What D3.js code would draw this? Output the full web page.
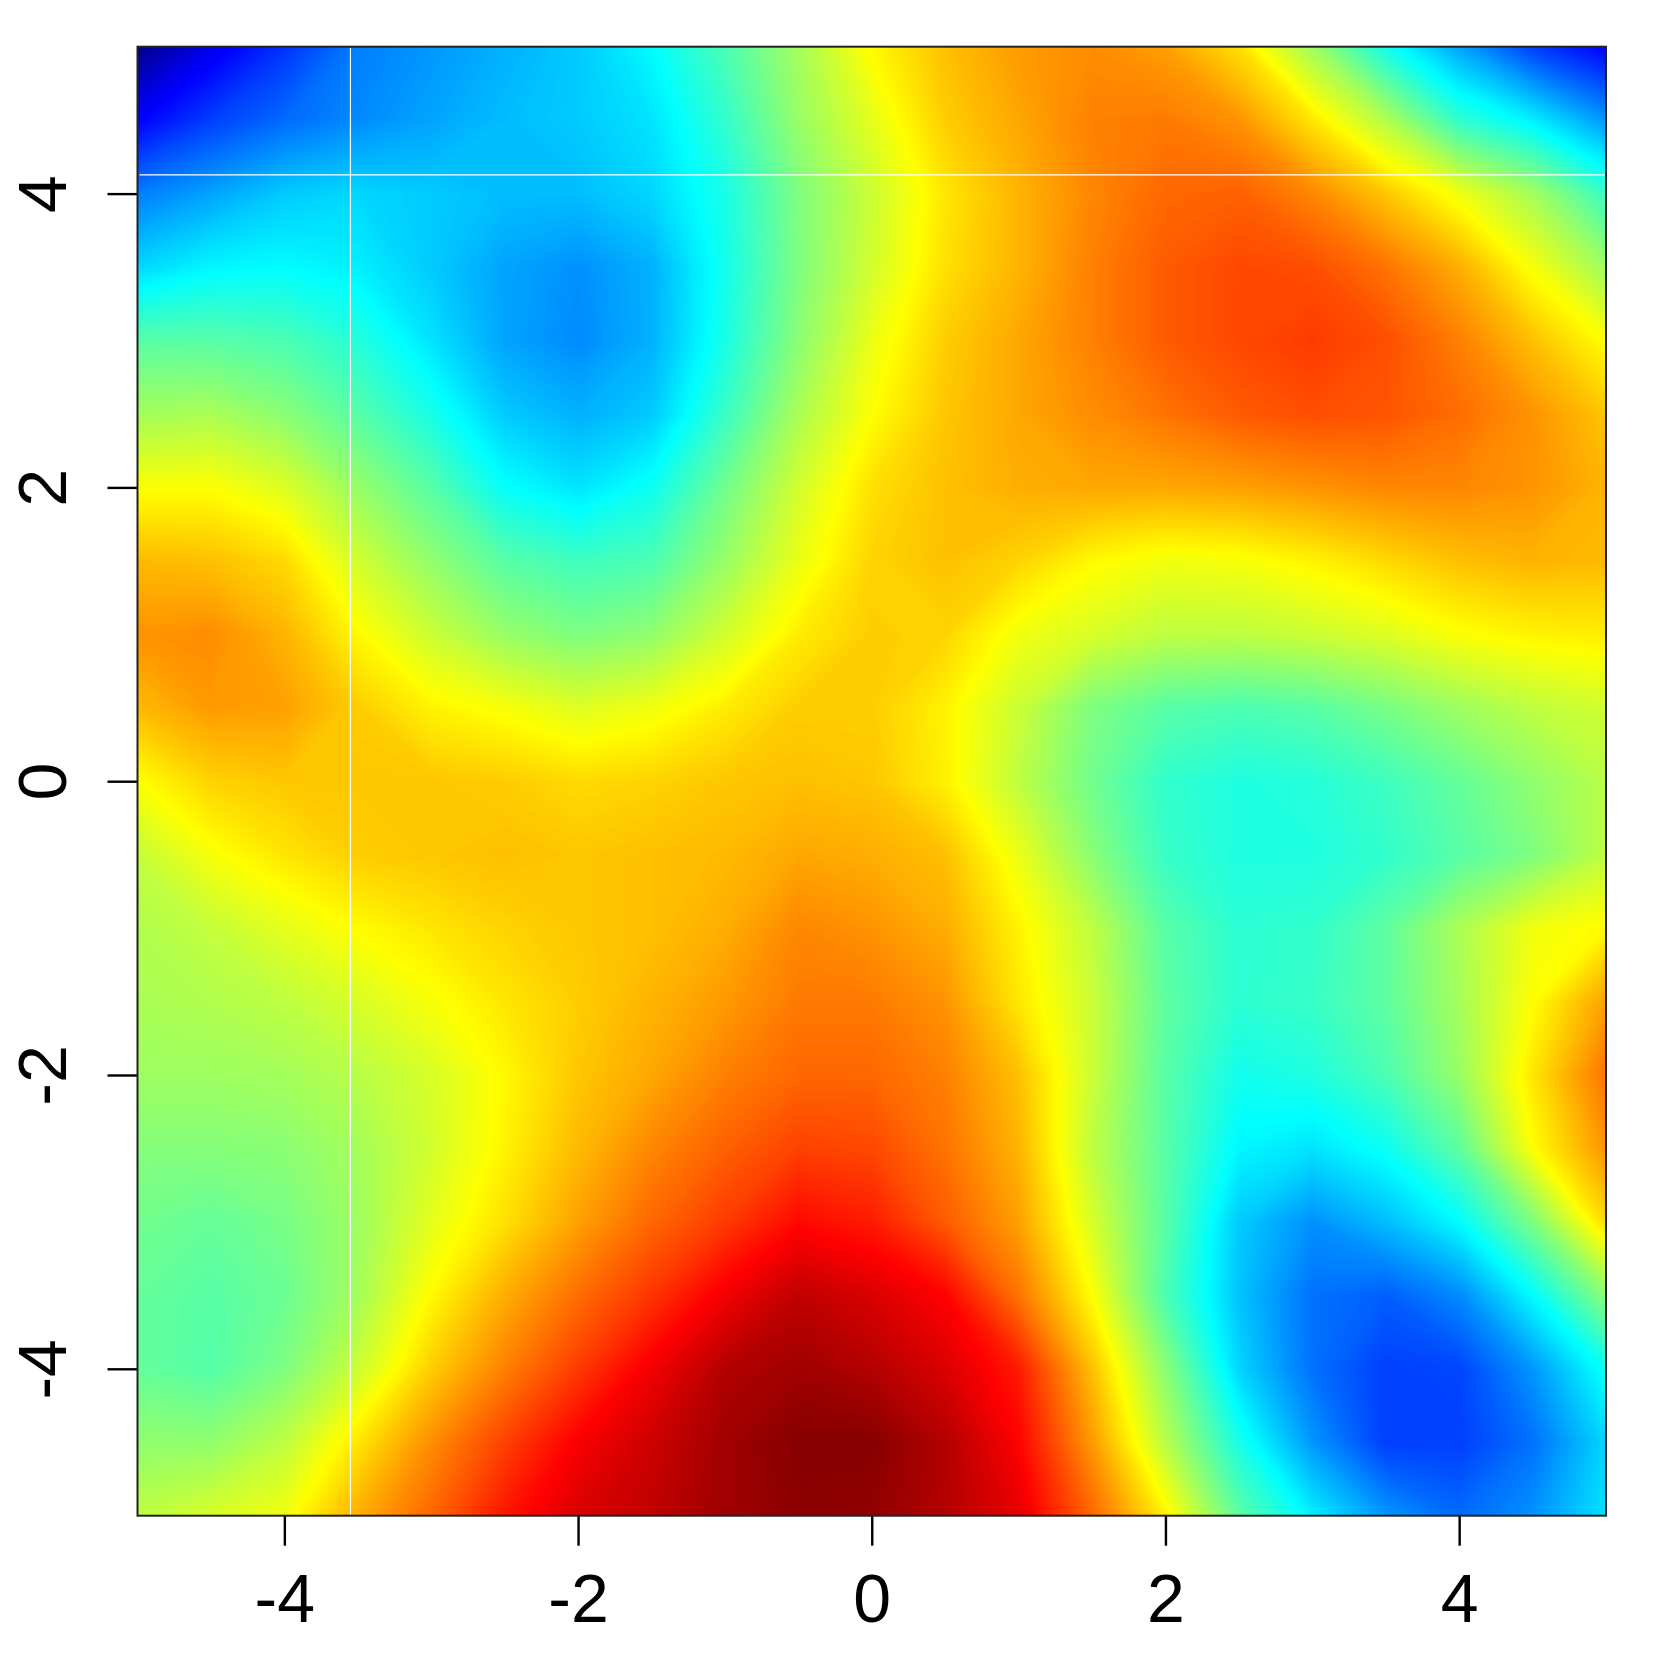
<!DOCTYPE html>
<html>
<head>
<meta charset="utf-8">
<script src="https://d3js.org/d3.v7.min.js"></script>
<style>
  html, body { margin: 0; padding: 0; background: #fff; }
  svg { display: block; }
  text { font-family: "Liberation Sans", Arial, sans-serif; font-size: 68px; fill: #000; }
</style>
</head>
<body>
<div id="heatmap"></div>
<script>
// grid positions of the read values
var xGrid = d3.range(21).map(function(i) { return -5 + i * 0.5; });
var yGrid = d3.range(21).map(function(i) { return 5 - i * 0.5; });

// values, one row per yGrid entry (top row first)
var zRows = [
  [0.1,0.85,1.4,2.0,2.2,2.4,2.6,3.0,3.6,4.3,5.05,5.5,5.8,5.9,5.75,5.25,4.25,3.15,2.3,1.5,1.0],
  [1.0,1.5,1.85,2.1,2.3,2.5,2.6,2.8,3.4,4.2,4.8,5.4,5.7,6.0,6.05,5.85,5.2,4.4,3.4,2.9,2.2],
  [2.0,2.3,2.6,2.7,2.6,2.5,2.5,2.7,3.2,4.0,4.6,5.2,5.6,5.95,6.2,6.25,5.95,5.45,4.9,4.3,3.45],
  [2.7,2.95,3.0,2.9,2.6,2.3,2.15,2.4,3.15,4.0,4.65,5.25,5.6,6.0,6.3,6.45,6.4,6.1,5.65,4.95,4.25],
  [3.7,3.7,3.6,3.3,2.8,2.3,2.1,2.4,3.2,4.1,4.85,5.4,5.7,6.0,6.3,6.45,6.55,6.4,6.0,5.5,5.0],
  [4.3,4.35,4.1,3.7,3.2,2.6,2.4,2.6,3.45,4.35,5.0,5.45,5.7,5.9,6.1,6.3,6.4,6.35,6.15,5.85,5.45],
  [4.98,5.0,4.75,4.2,3.7,3.05,2.8,3.1,3.9,4.65,5.25,5.5,5.65,5.7,5.7,5.75,5.85,5.95,5.95,5.85,5.6],
  [5.55,5.5,5.3,4.65,4.15,3.7,3.5,3.6,4.2,4.85,5.35,5.5,5.35,5.05,4.9,4.95,5.1,5.3,5.5,5.6,5.55],
  [5.85,5.9,5.6,5.05,4.6,4.2,4.0,4.15,4.65,5.15,5.4,5.35,4.9,4.7,4.5,4.5,4.6,4.75,4.98,5.1,5.15],
  [5.55,5.8,5.75,5.4,5.1,4.95,4.75,4.9,5.15,5.4,5.4,5.1,4.6,4.0,3.7,3.6,3.7,3.95,4.25,4.5,4.65],
  [5.0,5.35,5.45,5.45,5.45,5.4,5.3,5.35,5.45,5.5,5.45,5.12,4.5,3.9,3.4,3.25,3.3,3.5,3.8,4.15,4.45],
  [4.55,4.95,5.2,5.4,5.45,5.5,5.45,5.5,5.55,5.7,5.65,5.5,4.85,4.1,3.45,3.25,3.25,3.4,3.7,4.0,4.5],
  [4.4,4.55,4.8,5.03,5.2,5.35,5.45,5.5,5.65,5.95,5.85,5.65,5.1,4.5,3.7,3.35,3.4,3.75,4.35,4.9,5.05],
  [4.35,4.4,4.5,4.7,4.95,5.2,5.4,5.6,5.8,6.05,6.05,5.85,5.2,4.6,3.75,3.35,3.45,3.75,4.3,5.0,5.75],
  [4.25,4.25,4.3,4.45,4.7,5.05,5.45,5.7,6.0,6.2,6.2,6.0,5.5,4.6,3.7,3.15,3.25,3.6,4.2,5.2,6.1],
  [4.05,4.05,4.1,4.3,4.65,5.1,5.55,5.95,6.25,6.5,6.45,6.1,5.6,4.5,3.7,2.95,2.8,3.1,3.75,5.0,5.85],
  [3.9,3.8,3.95,4.25,4.8,5.25,5.75,6.2,6.55,6.95,6.8,6.3,5.75,4.7,3.7,2.6,2.15,2.5,3.0,4.0,5.3],
  [3.8,3.7,3.85,4.3,5.05,5.65,6.15,6.6,7.1,7.5,7.3,7.0,6.1,5.0,3.6,2.55,1.9,1.75,2.1,3.0,4.1],
  [3.8,3.67,4.0,4.6,5.4,6.0,6.55,7.1,7.6,7.75,7.6,7.3,6.8,5.5,4.1,2.7,1.9,1.5,1.55,2.2,3.1],
  [4.15,4.15,4.5,5.2,5.9,6.5,7.05,7.4,7.75,7.95,7.95,7.6,7.0,5.8,4.45,3.2,2.2,1.5,1.5,1.9,2.7],
  [4.5,4.7,4.9,5.65,6.2,6.85,7.3,7.5,7.75,7.9,7.85,7.6,7.2,6.2,5.1,3.75,2.9,2.2,1.85,2.15,2.8]
];

var jetColors = ["#00007F", "#0000FF", "#007FFF", "#00FFFF", "#7FFF7F", "#FFFF00", "#FF7F00", "#FF0000", "#7F0000"];
var xTicks = [-4, -2, 0, 2, 4];
var yTicks = [-4, -2, 0, 2, 4];
// the two white hairlines across the image
var seamX = [-3.55];
var seamY = [4.127];

var margin = {top: 46.7, right: 47, bottom: 137.3, left: 137.5},
    width = 1653 - margin.left - margin.right,
    height = 1653 - margin.top - margin.bottom;

var svg = d3.select("#heatmap")
    .append("svg")
    .attr("width", 1653)
    .attr("height", 1653)
    .append("g")
    .attr("transform", "translate(" + margin.left + "," + margin.top + ")");

var x = d3.scaleLinear().domain([-5, 5]).range([0, width]);
var y = d3.scaleLinear().domain([-5, 5]).range([height, 0]);
var color = d3.scaleLinear()
    .domain(d3.range(jetColors.length))
    .range(jetColors)
    .interpolate(d3.interpolateRgb);

svg.append("clipPath")
    .attr("id", "plotclip")
    .append("rect")
    .attr("width", width)
    .attr("height", height);

// contour bands on the value grid, fine enough to read as a smooth image
var nx = xGrid.length, ny = yGrid.length;
var flat = d3.merge(zRows);
var levels = d3.range(0, 8.01, 0.02);
var contours = d3.contours().size([nx, ny]).thresholds(levels)(flat);

// contour coordinates put grid node i at i + 0.5
var gx = d3.scaleLinear().domain([0.5, nx - 0.5]).range([x(xGrid[0]), x(xGrid[nx - 1])]);
var gy = d3.scaleLinear().domain([0.5, ny - 0.5]).range([y(yGrid[0]), y(yGrid[ny - 1])]);
var path = d3.geoPath(d3.geoTransform({
    point: function(a, b) { this.stream.point(gx(a), gy(b)); }
}));

svg.append("g")
    .attr("clip-path", "url(#plotclip)")
    .selectAll("path")
    .data(contours)
    .join("path")
    .attr("d", path)
    .attr("fill", function(d) { return color(d.value); });

// white hairlines
svg.selectAll(".seamx")
    .data(seamX)
    .join("line")
    .attr("x1", function(d) { return x(d); })
    .attr("x2", function(d) { return x(d); })
    .attr("y1", 1)
    .attr("y2", height - 1)
    .attr("stroke", "#fff")
    .attr("stroke-width", 1.2);
svg.selectAll(".seamy")
    .data(seamY)
    .join("line")
    .attr("x1", 2)
    .attr("x2", width - 1)
    .attr("y1", function(d) { return y(d); })
    .attr("y2", function(d) { return y(d); })
    .attr("stroke", "#fff")
    .attr("stroke-width", 1.2);

// axes
var xAxis = svg.append("g")
    .attr("transform", "translate(0," + height + ")")
    .call(d3.axisBottom(x).tickValues(xTicks).tickFormat(d3.format("d")).tickSize(30).tickPadding(16));
var yAxis = svg.append("g")
    .call(d3.axisLeft(y).tickValues(yTicks).tickFormat(d3.format("d")).tickSize(30));

[xAxis, yAxis].forEach(function(a) {
    a.attr("font-family", null).attr("font-size", null);
    a.select(".domain").remove();
    a.selectAll("line").attr("stroke", "#000").attr("stroke-width", 2.4);
});
xAxis.selectAll("text")
    .attr("dy", null)
    .attr("y", 106.6)
    .attr("text-anchor", "middle")
    .text(function(d) { return String(d); });
yAxis.selectAll("text")
    .attr("x", null)
    .attr("dy", null)
    .attr("text-anchor", "middle")
    .attr("transform", "translate(" + (66 - margin.left) + ",0) rotate(-90)")
    .text(function(d) { return String(d); });

// box round the plot
svg.append("rect")
    .attr("width", width)
    .attr("height", height)
    .attr("fill", "none")
    .attr("stroke", "#222")
    .attr("stroke-width", 2);
</script>
</body>
</html>
